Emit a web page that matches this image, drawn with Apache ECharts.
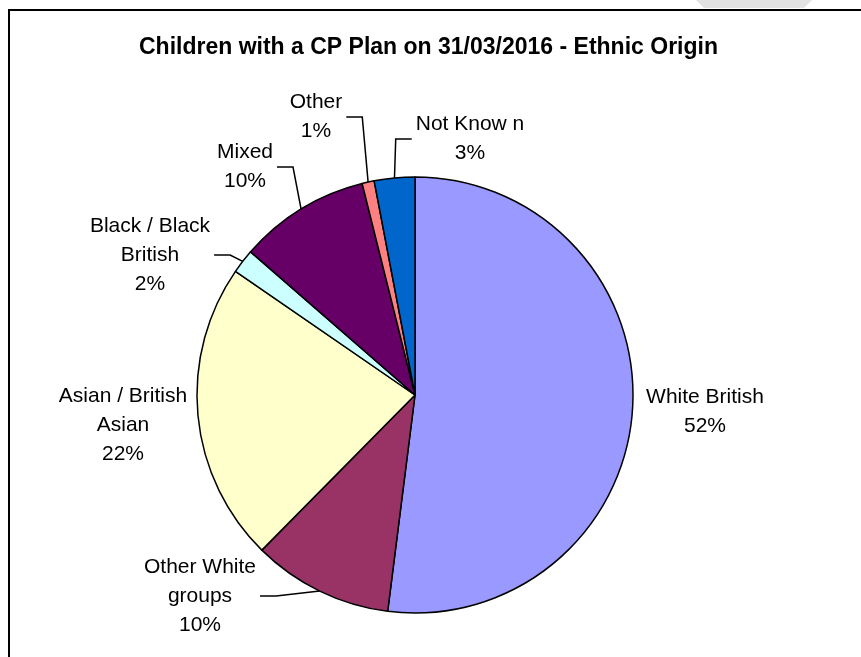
<!DOCTYPE html>
<html>
<head>
<meta charset="utf-8">
<title>Children with a CP Plan - Ethnic Origin</title>
<script src="https://cdn.jsdelivr.net/npm/echarts@6/dist/echarts.min.js"></script>
<style>
  html, body { margin: 0; padding: 0; background: #fff; }
  #chart { width: 861px; height: 657px; }
</style>
</head>
<body>
<div id="chart"></div>
<script>
// data (percent of children)
const categories = [
  'White British',
  'Other White\ngroups',
  'Asian / British\nAsian',
  'Black / Black\nBritish',
  'Mixed',
  'Other',
  'Not Know n'
]
const shares = [52.0, 10.4, 22.2, 1.8, 9.7, 0.9, 3.0]
const colors = ['#9999FF', '#993366', '#FFFFCC', '#CCFFFF', '#660066', '#FF8080', '#0066CC']

// where each label sits (block centre), like the Excel layout
const labelPos = [
  [705, 412],
  [200, 596],
  [123, 425],
  [150, 255],
  [245, 167],
  [316, 117],
  [470, 139]
]
const noLeader = [0, 2]

const chart = echarts.init(document.getElementById('chart'))

const option = {
  animation: false,
  backgroundColor: '#fff',
  title: {
    text: 'Children with a CP Plan on 31/03/2016 - Ethnic Origin',
    left: 134,
    top: 31,
    textStyle: {
      fontFamily: 'Liberation Sans, Arial, sans-serif',
      fontSize: 23,
      fontWeight: 'bold',
      color: '#000'
    }
  },
  graphic: [
    {
      type: 'polygon',
      shape: { points: [[696, 0], [812, 0], [804, 8], [704, 8]] },
      style: { fill: '#e2e2e2' },
      silent: true
    },
    {
      type: 'line',
      shape: { x1: 8, y1: 10, x2: 861, y2: 10 },
      style: { stroke: '#000', lineWidth: 2 },
      silent: true
    },
    {
      type: 'line',
      shape: { x1: 9, y1: 9, x2: 9, y2: 657 },
      style: { stroke: '#000', lineWidth: 2 },
      silent: true
    }
  ],
  series: [
    {
      type: 'pie',
      center: [415, 395],
      radius: 218,
      startAngle: 90,
      clockwise: true,
      avoidLabelOverlap: false,
      itemStyle: {
        borderColor: '#000',
        borderWidth: 1.5
      },
      label: {
        show: true,
        position: 'outside',
        fontFamily: 'Liberation Sans, Arial, sans-serif',
        fontSize: 21,
        lineHeight: 29,
        color: '#000',
        align: 'center',
        formatter: (p) => p.name + '\n' + Math.round(p.percent) + '%'
      },
      labelLine: {
        show: true,
        length: 20,
        length2: 15,
        lineStyle: { color: '#000', width: 1.5 }
      },
      labelLayout: (params) => {
        const i = params.dataIndex
        const p = labelPos[i]
        const res = { x: p[0], y: p[1], align: 'center', verticalAlign: 'middle' }
        const pts = params.labelLinePoints
        if (pts && noLeader.indexOf(i) < 0) {
          const start = pts[0]
          const side = start[0] > p[0] ? 1 : -1
          const ex = p[0] + side * (params.labelRect.width / 2 + 4)
          res.labelLinePoints = [start, [ex + side * 16, p[1]], [ex, p[1]]]
        }
        return res
      },
      emphasis: { disabled: true },
      data: categories.map((name, i) => ({
        name: name,
        value: shares[i],
        itemStyle: { color: colors[i] },
        labelLine: { show: noLeader.indexOf(i) < 0 }
      }))
    }
  ]
}

chart.setOption(option)
</script>
</body>
</html>
